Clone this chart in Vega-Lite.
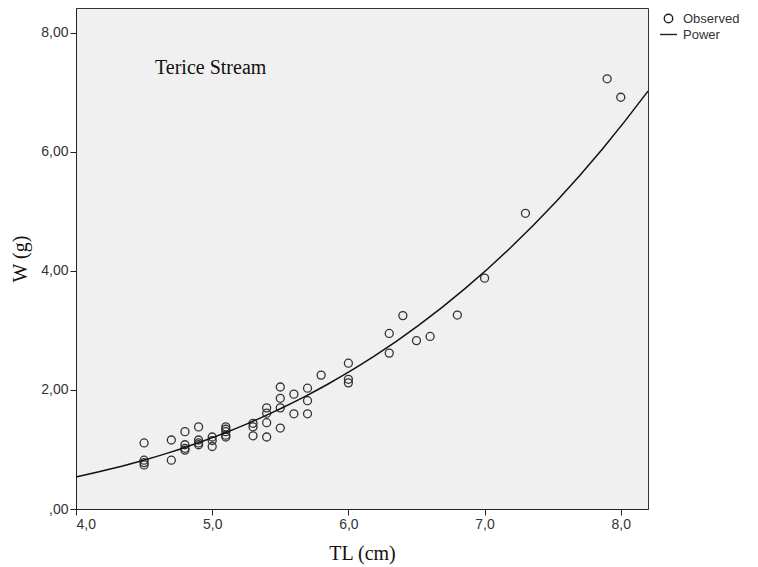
{
  "$schema": "https://vega.github.io/schema/vega-lite/v6.json",
  "autosize": {"type": "none"},
  "width": 572,
  "height": 501,
  "padding": {"left": 76, "top": 8, "right": 110, "bottom": 58},
  "background": "white",
  "config": {
    "view": {"fill": "#f0f0f0", "stroke": "#333333", "strokeWidth": 1},
    "axis": {
      "domainColor": "#222222",
      "tickColor": "#222222",
      "tickSize": 6,
      "labelFont": "Liberation Sans",
      "labelFontSize": 14,
      "labelColor": "#333333",
      "titleFont": "Liberation Serif",
      "titleFontSize": 20,
      "titleFontWeight": "normal",
      "titleColor": "#111111",
      "grid": false
    }
  },
  "data": {
    "values": [
      {"TL": 4.5, "W": 1.11}, {"TL": 4.5, "W": 0.82}, {"TL": 4.5, "W": 0.78}, {"TL": 4.5, "W": 0.74},
      {"TL": 4.7, "W": 1.16}, {"TL": 4.7, "W": 0.82},
      {"TL": 4.8, "W": 1.30}, {"TL": 4.8, "W": 1.08}, {"TL": 4.8, "W": 1.02}, {"TL": 4.8, "W": 0.99},
      {"TL": 4.9, "W": 1.38}, {"TL": 4.9, "W": 1.16}, {"TL": 4.9, "W": 1.11}, {"TL": 4.9, "W": 1.08},
      {"TL": 5.0, "W": 1.21}, {"TL": 5.0, "W": 1.15}, {"TL": 5.0, "W": 1.05},
      {"TL": 5.1, "W": 1.38}, {"TL": 5.1, "W": 1.34}, {"TL": 5.1, "W": 1.30}, {"TL": 5.1, "W": 1.24}, {"TL": 5.1, "W": 1.21},
      {"TL": 5.3, "W": 1.44}, {"TL": 5.3, "W": 1.38}, {"TL": 5.3, "W": 1.23},
      {"TL": 5.4, "W": 1.70}, {"TL": 5.4, "W": 1.61}, {"TL": 5.4, "W": 1.45}, {"TL": 5.4, "W": 1.21},
      {"TL": 5.5, "W": 2.05}, {"TL": 5.5, "W": 1.86}, {"TL": 5.5, "W": 1.70}, {"TL": 5.5, "W": 1.36},
      {"TL": 5.6, "W": 1.93}, {"TL": 5.6, "W": 1.60},
      {"TL": 5.7, "W": 2.03}, {"TL": 5.7, "W": 1.82}, {"TL": 5.7, "W": 1.60},
      {"TL": 5.8, "W": 2.25},
      {"TL": 6.0, "W": 2.45}, {"TL": 6.0, "W": 2.18}, {"TL": 6.0, "W": 2.12},
      {"TL": 6.3, "W": 2.95}, {"TL": 6.3, "W": 2.62},
      {"TL": 6.4, "W": 3.25},
      {"TL": 6.5, "W": 2.83},
      {"TL": 6.6, "W": 2.90},
      {"TL": 6.8, "W": 3.26},
      {"TL": 7.0, "W": 3.88},
      {"TL": 7.3, "W": 4.97},
      {"TL": 7.9, "W": 7.23},
      {"TL": 8.0, "W": 6.92}
    ]
  },
  "layer": [
    {
      "mark": {"type": "point", "filled": false, "size": 64, "strokeWidth": 1.3, "color": "#333333", "opacity": 1},
      "encoding": {
        "x": {
          "field": "TL", "type": "quantitative",
          "scale": {"domain": [4, 8.2], "nice": false, "zero": false},
          "axis": {
            "title": "TL (cm)", "values": [4, 5, 6, 7, 8],
            "labelExpr": "replace(format(datum.value, '.1f'), '.', ',')",
            "titlePadding": 12
          }
        },
        "y": {
          "field": "W", "type": "quantitative",
          "scale": {"domain": [0, 8.42], "nice": false},
          "axis": {
            "title": "W (g)", "values": [0, 2, 4, 6, 8],
            "labelExpr": "datum.value == 0 ? ',00' : replace(format(datum.value, '.2f'), '.', ',')",
            "titlePadding": 10
          }
        },
        "shape": {
          "datum": "Observed",
          "scale": {"domain": ["Observed", "Power"], "range": ["circle", "M-2,0H2"]},
          "legend": {
            "title": null,
            "orient": "right",
            "offset": 10,
            "padding": 4,
            "labelFont": "Liberation Sans",
            "labelFontSize": 13,
            "labelColor": "#333333",
            "symbolSize": 72,
            "symbolStrokeColor": "#222222",
            "symbolStrokeWidth": 1.4,
            "symbolFillColor": "transparent",
            "rowPadding": 2,
            "labelOffset": 8
          }
        }
      }
    },
    {
      "transform": [{"regression": "W", "on": "TL", "method": "pow", "extent": [4, 8.2]}],
      "mark": {"type": "line", "color": "#111111", "strokeWidth": 1.5},
      "encoding": {
        "x": {"field": "TL", "type": "quantitative"},
        "y": {"field": "W", "type": "quantitative"}
      }
    },
    {
      "data": {"values": [{"TL": 4.58, "W": 7.41, "label": "Terice Stream"}]},
      "mark": {"type": "text", "align": "left", "baseline": "middle", "font": "Liberation Serif", "fontSize": 20, "color": "#111111"},
      "encoding": {
        "x": {"field": "TL", "type": "quantitative"},
        "y": {"field": "W", "type": "quantitative"},
        "text": {"field": "label"}
      }
    }
  ]
}
